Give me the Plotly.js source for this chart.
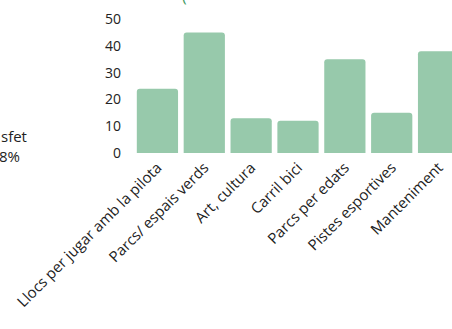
<!DOCTYPE html>
<html>
<head>
<meta charset="utf-8">
<script src="https://cdn.plot.ly/plotly-3.0.1.min.js"></script>
<style>
html,body{margin:0;padding:0;overflow:hidden;background:#fff;width:452px;height:329px;}
#chart{width:470px;height:329px;}
</style>
</head>
<body>
<div id="chart"></div>
<script>
var categories = ["Llocs per jugar amb la pilota","Parcs/ espais verds","Art, cultura","Carril bici","Parcs per edats","Pistes esportives","Manteniment"];
var values = [24, 45, 13, 12, 35, 15, 38];
var yTicks = [0, 10, 20, 30, 40, 50];

var L = 134.1, R = 470 - 461.6, T = 18.5, B = 329 - 153.5;
var plotW = 470 - L - R, plotH = 329 - T - B;
function px(xp){ return (xp - L) / plotW; }
function py(yp){ return (329 - B - yp) / plotH; }

var data = [{
  type: "bar",
  x: categories,
  y: values,
  marker: {color: "#97c9ab", cornerradius: 3},
  hoverinfo: "none"
}];

var layout = {
  width: 470, height: 329,
  margin: {l: L, r: R, t: T, b: B, pad: 0},
  paper_bgcolor: "#ffffff",
  plot_bgcolor: "#ffffff",
  bargap: 0.12,
  showlegend: false,
  font: {family: "Open Sans", size: 13, color: "#222222"},
  xaxis: {
    type: "category",
    tickangle: -45,
    showgrid: false, zeroline: false, showline: false,
    ticks: "", ticklabelstandoff: 2, tickfont: {size: 15, color: "#222222"},
    fixedrange: true
  },
  yaxis: {
    range: [0, 50],
    tickvals: yTicks,
    showgrid: false, zeroline: false, showline: false,
    ticks: "", ticklabelstandoff: 12,
    tickfont: {size: 14, color: "#222222"},
    fixedrange: true
  },
  annotations: [
    {text: "sfet", xref: "paper", yref: "paper", x: px(-1), y: py(136), xanchor: "left", yanchor: "middle", showarrow: false, font: {size: 15, color: "#222222"}},
    {text: "8%", xref: "paper", yref: "paper", x: px(-3), y: py(157), xanchor: "left", yanchor: "middle", showarrow: false, font: {size: 15, color: "#222222"}},
    {text: "(", xref: "paper", yref: "paper", x: px(180), y: py(-5), xanchor: "left", yanchor: "middle", showarrow: false, font: {size: 16, color: "#3f9a63"}}
  ]
};

Plotly.newPlot("chart", data, layout, {staticPlot: true, displayModeBar: false});
</script>
</body>
</html>
